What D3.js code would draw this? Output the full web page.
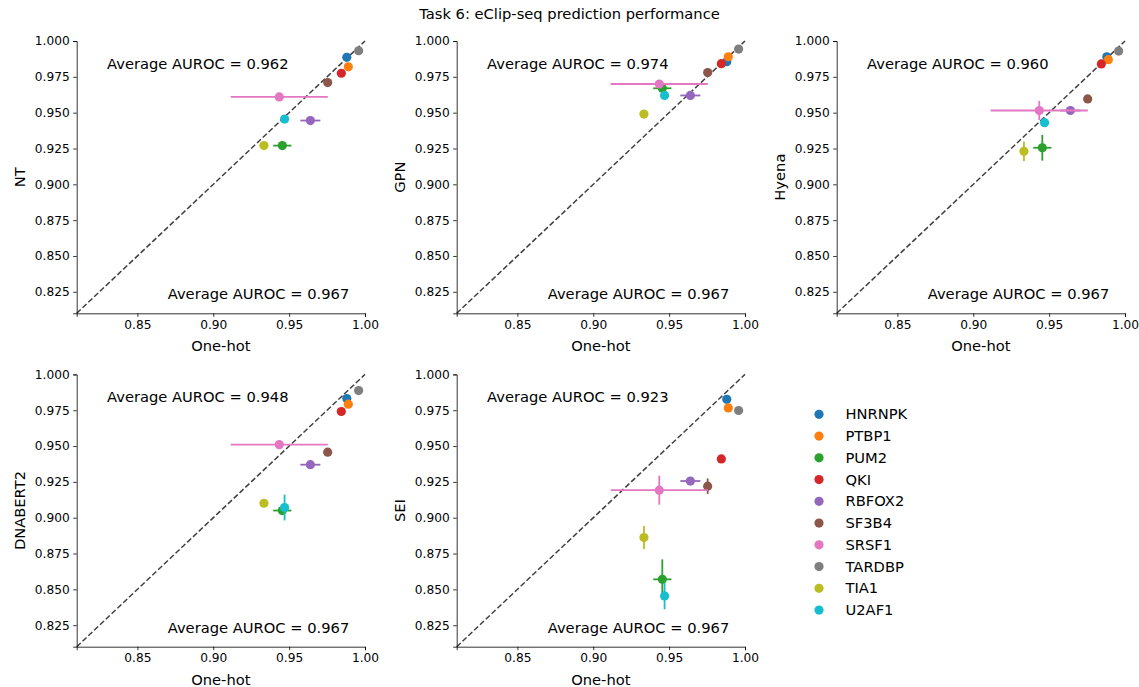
<!DOCTYPE html>
<html>
<head>
<meta charset="utf-8">
<script src="https://cdn.jsdelivr.net/npm/d3@7"></script>
<style>
  body { margin: 0; background: #fff; }
  text { font-family: "DejaVu Sans", sans-serif; fill: #000; }
</style>
</head>
<body>
<div id="chart"></div>
<script>
// proteins and their colours (tab10)
var proteins = ["HNRNPK", "PTBP1", "PUM2", "QKI", "RBFOX2", "SF3B4", "SRSF1", "TARDBP", "TIA1", "U2AF1"];
var colors = ["#1f77b4", "#ff7f0e", "#2ca02c", "#d62728", "#9467bd", "#8c564b", "#e377c2", "#7f7f7f", "#bcbd22", "#17becf"];

// one-hot baseline (x axis) shared by all panels
var oneHot    = [0.988, 0.989, 0.9455, 0.9844, 0.964, 0.9754, 0.9435, 0.9958, 0.9334, 0.947];
var oneHotErr = [0, 0, 0.006, 0, 0.0066, 0, 0.032, 0, 0, 0.001];
var oneHotAvg = 0.967;

var models = ["NT", "GPN", "Hyena", "DNABERT2", "SEI"];
var modelAvg = [0.962, 0.974, 0.960, 0.948, 0.923];

var ntVals       = [0.9886, 0.982, 0.927, 0.9775, 0.9445, 0.971, 0.961, 0.9932, 0.927, 0.9455];
var ntErr        = [0, 0, 0.001, 0, 0.001, 0, 0.001, 0, 0, 0];
var gpnVals      = [0.9856, 0.989, 0.967, 0.9842, 0.962, 0.978, 0.970, 0.9944, 0.949, 0.962];
var gpnErr       = [0, 0, 0.002, 0, 0.001, 0, 0.001, 0, 0, 0];
var hyenaVals    = [0.989, 0.987, 0.9255, 0.984, 0.9515, 0.9596, 0.9515, 0.993, 0.923, 0.943];
var hyenaErr     = [0, 0, 0.009, 0, 0.001, 0, 0.0066, 0, 0.0068, 0.002];
var dnabert2Vals = [0.9831, 0.9792, 0.905, 0.9741, 0.937, 0.9457, 0.951, 0.9887, 0.9101, 0.9071];
var dnabert2Err  = [0, 0, 0.001, 0, 0.001, 0, 0.001, 0, 0.002, 0.009];
var seiVals      = [0.9826, 0.9766, 0.857, 0.941, 0.9256, 0.922, 0.9192, 0.9748, 0.8862, 0.8454];
var seiErr       = [0, 0, 0.0139, 0, 0.001, 0.0054, 0.0101, 0, 0.008, 0.0093];

var allVals = [ntVals, gpnVals, hyenaVals, dnabert2Vals, seiVals];
var allErr  = [ntErr, gpnErr, hyenaErr, dnabert2Err, seiErr];

var xTicks = [0.85, 0.90, 0.95, 1.00];
var yTicks = [0.825, 0.850, 0.875, 0.900, 0.925, 0.950, 0.975, 1.000];
var domain = [0.81, 1.0];

var W = 1139, H = 687;
var pw = 288.3, ph = 272.3;
var lefts = [76.7, 456.7, 836.7];
var tops = [41, 374.4];

var svg = d3.select("#chart").append("svg")
  .attr("width", W)
  .attr("height", H);

// title
svg.append("text")
  .attr("x", W / 2)
  .attr("y", 19)
  .attr("text-anchor", "middle")
  .style("font-size", "14.7px")
  .text("Task 6: eClip-seq prediction performance");

var x = d3.scaleLinear().domain(domain).range([0, pw]);
var y = d3.scaleLinear().domain(domain).range([ph, 0]);

models.forEach(function(name, m) {
  var col = m % 3, row = Math.floor(m / 3);
  var g = svg.append("g")
    .attr("transform", "translate(" + lefts[col] + "," + tops[row] + ")");

  // diagonal
  g.append("line")
    .attr("x1", x(domain[0])).attr("y1", y(domain[0]))
    .attr("x2", x(domain[1])).attr("y2", y(domain[1]))
    .attr("stroke", "#404040")
    .attr("stroke-width", 1.5)
    .attr("stroke-dasharray", "5.5,2.5");

  // axes
  var xa = g.append("g")
    .attr("transform", "translate(0," + ph + ")")
    .call(d3.axisBottom(x).tickValues(xTicks).tickFormat(d3.format(".2f")).tickSizeOuter(0).tickSize(3.5).tickPadding(3.5));
  var ya = g.append("g")
    .call(d3.axisLeft(y).tickValues(yTicks).tickFormat(d3.format(".3f")).tickSizeOuter(0).tickSize(3.5).tickPadding(3.5));
  [xa, ya].forEach(function(a) {
    a.select(".domain").attr("stroke", "#000").attr("stroke-width", 0.8);
    a.selectAll(".tick line").attr("stroke", "#000").attr("stroke-width", 0.8);
    a.selectAll(".tick text").style("font-size", "12.2px").style("font-family", "DejaVu Sans");
  });

  // axis labels
  g.append("text")
    .attr("x", pw / 2)
    .attr("y", ph + 38)
    .attr("text-anchor", "middle")
    .style("font-size", "14.7px")
    .text("One-hot");
  g.append("text")
    .attr("transform", "rotate(-90)")
    .attr("x", -ph / 2)
    .attr("y", -52)
    .attr("text-anchor", "middle")
    .style("font-size", "14.7px")
    .text(name);

  // average annotations
  g.append("text")
    .attr("x", x(0.83))
    .attr("y", y(0.984))
    .attr("dy", "0.35em")
    .style("font-size", "14.7px")
    .text("Average AUROC = " + d3.format(".3f")(modelAvg[m]));
  g.append("text")
    .attr("x", x(0.87))
    .attr("y", y(0.8233))
    .attr("dy", "0.35em")
    .style("font-size", "14.7px")
    .text("Average AUROC = " + d3.format(".3f")(oneHotAvg));

  // points with error bars
  var vals = allVals[m], errs = allErr[m];
  proteins.forEach(function(p, i) {
    var cx = x(oneHot[i]), cy = y(vals[i]);
    if (oneHotErr[i] > 0) {
      g.append("line")
        .attr("x1", x(oneHot[i] - oneHotErr[i])).attr("x2", x(oneHot[i] + oneHotErr[i]))
        .attr("y1", cy).attr("y2", cy)
        .attr("stroke", colors[i]).attr("stroke-width", 1.8);
    }
    if (errs[i] > 0) {
      g.append("line")
        .attr("x1", cx).attr("x2", cx)
        .attr("y1", y(vals[i] - errs[i])).attr("y2", y(vals[i] + errs[i]))
        .attr("stroke", colors[i]).attr("stroke-width", 1.8);
    }
    g.append("circle")
      .attr("cx", cx).attr("cy", cy)
      .attr("r", 4.6)
      .attr("fill", colors[i]);
  });
});

// legend
var legend = svg.append("g").attr("transform", "translate(819,414.3)");
proteins.forEach(function(p, i) {
  var row = legend.append("g").attr("transform", "translate(0," + (i * 21.75) + ")");
  row.append("circle").attr("r", 4.6).attr("fill", colors[i]);
  row.append("text")
    .attr("x", 26.5)
    .attr("dy", "0.35em")
    .style("font-size", "14.7px")
    .text(p);
});
</script>
</body>
</html>
